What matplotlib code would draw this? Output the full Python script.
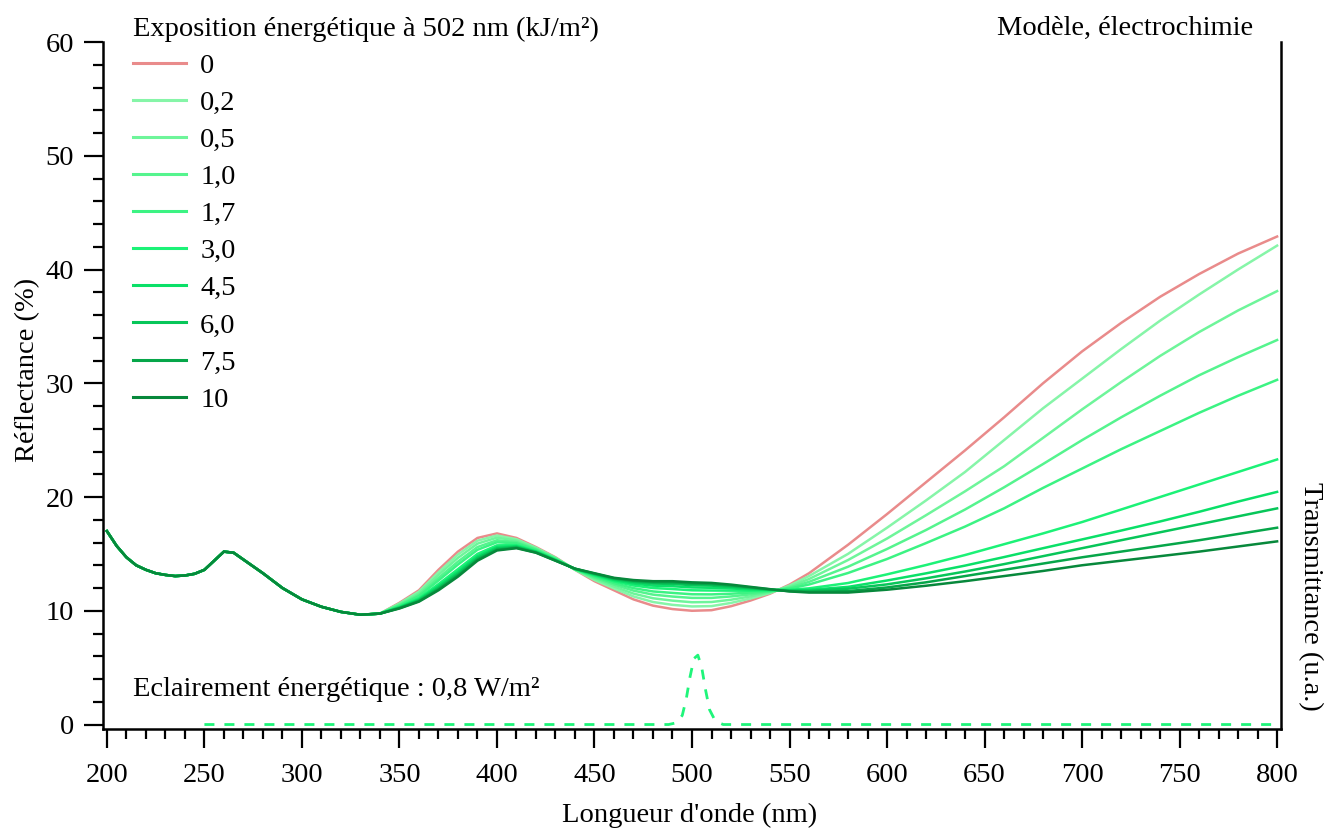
import numpy as np
import matplotlib.pyplot as plt
from matplotlib.ticker import MultipleLocator
from matplotlib.lines import Line2D

plt.rcParams['font.family'] = ['Liberation Serif', 'DejaVu Serif']
FS = 20.5

# wavelengths (nm) where all spectra overlap
wl_common = [200, 205, 210, 215, 220, 225, 230, 235, 240, 245, 250, 255, 260, 265,
             270, 280, 290, 300, 310, 320, 330, 340]
refl_common = [17.0, 15.7, 14.7, 14.0, 13.6, 13.3, 13.15, 13.05, 13.1, 13.25, 13.6, 14.4,
               15.2, 15.1, 14.5, 13.3, 12.0, 11.0, 10.35, 9.9, 9.65, 9.75]

# wavelengths (nm) where spectra differ with exposure
wl_var = [350, 360, 370, 380, 390, 400, 410, 420, 430, 440, 450, 460, 470, 480, 490,
          500, 510, 520, 530, 540, 550, 560, 580, 600, 620, 640, 660, 680, 700, 720,
          740, 760, 780, 800]

r_0 = [10.7, 11.8, 13.6, 15.2, 16.4, 16.8, 16.4, 15.6, 14.7, 13.6, 12.6, 11.8, 11.0, 10.45,
       10.15, 10.0, 10.05, 10.4, 10.9, 11.5, 12.3, 13.3, 15.8, 18.5, 21.3, 24.1, 27.0,
       30.0, 32.8, 35.3, 37.6, 39.6, 41.4, 42.9]
r_02 = [10.64, 11.68, 13.38, 14.94, 16.16, 16.62, 16.29, 15.54, 14.66, 13.61, 12.71, 11.97,
        11.26, 10.77, 10.52, 10.38, 10.41, 10.69, 11.08, 11.56, 12.21, 13.05, 15.0, 17.3,
        19.7, 22.2, 25.0, 27.8, 30.4, 33.0, 35.5, 37.8, 40.0, 42.1]
r_05 = [10.58, 11.55, 13.15, 14.65, 15.9, 16.43, 16.18, 15.48, 14.63, 13.63, 12.81, 12.13,
        11.51, 11.1, 10.89, 10.75, 10.77, 10.97, 11.26, 11.62, 12.12, 12.79, 14.46, 16.35,
        18.4, 20.5, 22.7, 25.2, 27.7, 30.1, 32.4, 34.5, 36.4, 38.1]
r_10 = [10.5, 11.4, 12.88, 14.32, 15.6, 16.2, 16.04, 15.4, 14.58, 13.64, 12.92, 12.3,
        11.77, 11.42, 11.25, 11.13, 11.13, 11.26, 11.44, 11.68, 12.03, 12.54, 13.87, 15.43,
        17.1, 18.9, 20.85, 22.9, 25.0, 27.0, 28.9, 30.7, 32.3, 33.8]
r_17 = [10.44, 11.28, 12.66, 14.06, 15.36, 16.02, 15.93, 15.34, 14.54, 13.65, 13.01, 12.44,
        11.99, 11.7, 11.57, 11.45, 11.44, 11.5, 11.6, 11.73, 11.95, 12.31, 13.32, 14.55,
        15.95, 17.4, 19.0, 20.8, 22.5, 24.2, 25.8, 27.4, 28.9, 30.3]
r_30 = [10.35, 11.1, 12.34, 13.66, 15.0, 15.75, 15.77, 15.25, 14.49, 13.67, 13.1, 12.59,
        12.22, 12.0, 11.91, 11.8, 11.78, 11.77, 11.76, 11.79, 11.85, 11.97, 12.44, 13.2,
        14.02, 14.9, 15.85, 16.8, 17.8, 18.9, 20.0, 21.1, 22.2, 23.3]
r_45 = [10.3, 11.0, 12.16, 13.44, 14.8, 15.6, 15.68, 15.2, 14.46, 13.68, 13.17, 12.7,
        12.39, 12.21, 12.16, 12.05, 12.02, 11.96, 11.88, 11.83, 11.8, 11.84, 12.1, 12.66,
        13.29, 13.97, 14.72, 15.5, 16.27, 17.05, 17.85, 18.7, 19.6, 20.45]
r_60 = [10.26, 10.92, 12.02, 13.26, 14.64, 15.48, 15.61, 15.16, 14.44, 13.69, 13.23, 12.79,
        12.53, 12.39, 12.36, 12.25, 12.21, 12.11, 11.98, 11.86, 11.76, 11.75, 11.94, 12.32,
        12.85, 13.45, 14.1, 14.8, 15.5, 16.2, 16.9, 17.6, 18.3, 19.0]
r_75 = [10.23, 10.85, 11.89, 13.11, 14.5, 15.37, 15.54, 15.12, 14.41, 13.7, 13.27, 12.86,
        12.63, 12.51, 12.5, 12.4, 12.35, 12.22, 12.05, 11.88, 11.72, 11.67, 11.73, 12.05,
        12.5, 13.05, 13.6, 14.15, 14.7, 15.2, 15.7, 16.2, 16.75, 17.3]
r_100 = [10.2, 10.8, 11.8, 13.0, 14.4, 15.3, 15.5, 15.1, 14.4, 13.7, 13.3, 12.9, 12.7, 12.6,
         12.6, 12.5, 12.45, 12.3, 12.1, 11.9, 11.7, 11.6, 11.6, 11.85, 12.2, 12.6, 13.05,
         13.5, 14.0, 14.4, 14.8, 15.2, 15.65, 16.1]

exposures = ['0', '0,2', '0,5', '1,0', '1,7', '3,0', '4,5', '6,0', '7,5', '10']
colors = ['#e98b8b', '#86f5a8', '#6ef59a', '#55f48e', '#3cf383', '#1cf277',
          '#0ae068', '#07c659', '#06a649', '#07883b']

# illumination spectrum (dashed), arbitrary units
wl_lamp = [250, 488, 492, 495, 497, 499, 501, 503, 505, 507, 509, 512, 516, 800]
lamp = [0, 0, 0.15, 0.8, 2.2, 4.2, 5.8, 6.1, 5.0, 3.0, 1.3, 0.3, 0, 0]

W, H = 1326, 834
fig = plt.figure(figsize=(W / 100, H / 100), dpi=100)
ax = fig.add_axes([103 / W, 1 - 728.5 / H, (1281 - 103) / W, (728.5 - 42) / H])

wl_all = wl_common + wl_var
for ser, lab, col in zip([r_0, r_02, r_05, r_10, r_17, r_30, r_45, r_60, r_75, r_100],
                         exposures, colors):
    ax.plot(wl_all, refl_common + ser, color=col, lw=1.8, label=lab)

ax.plot(wl_lamp, lamp, color='#1ff57a', lw=2.0, dashes=(3.6, 3.6))

ax.set_xlim(198, 802)
ax.set_ylim(-0.35, 60)
ax.set_xticks(range(200, 801, 50))
ax.xaxis.set_minor_locator(MultipleLocator(10))
ax.set_yticks(range(0, 61, 10))
ax.yaxis.set_minor_locator(MultipleLocator(2))

ax.spines['top'].set_visible(False)
for s in ['left', 'bottom', 'right']:
    ax.spines[s].set_linewidth(1.8)
ax.tick_params(which='major', length=14, width=1.6, labelsize=FS, direction='out')
ax.tick_params(which='minor', length=7, width=1.6, direction='out')
ax.tick_params(axis='x', pad=11)
ax.tick_params(axis='y', pad=7)
ax.tick_params(right=False, top=False, which='both')

handles = [Line2D([], [], color=c, lw=2.2) for c in colors]
leg = ax.legend(handles, exposures, title="Exposition énergétique à 502 nm (kJ/m²)",
                loc='upper left', bbox_to_anchor=(133 / W, 1 - 17 / H),
                bbox_transform=fig.transFigure, frameon=False, alignment='left',
                fontsize=FS, title_fontsize=FS, handlelength=1.86,
                handletextpad=0.5, labelspacing=0.39, borderpad=0, borderaxespad=0)

fig.text(1253 / W, 1 - 28 / H, "Modèle, électrochimie", fontsize=FS,
         ha='right', va='center')
fig.text(133 / W, 1 - 690 / H, "Eclairement énergétique : 0,8 W/m²", fontsize=FS,
         ha='left', va='center')
fig.text(28 / W, 1 - 370 / H, "Réflectance (%)", fontsize=FS, rotation=90,
         ha='center', va='center')
fig.text(1310 / W, 1 - 596 / H, "Transmittance (u.a.)", fontsize=FS, rotation=270,
         ha='center', va='center')
fig.text(690 / W, 1 - 815 / H, "Longueur d'onde (nm)", fontsize=FS,
         ha='center', va='center')

fig.savefig('out.png', dpi=100)
